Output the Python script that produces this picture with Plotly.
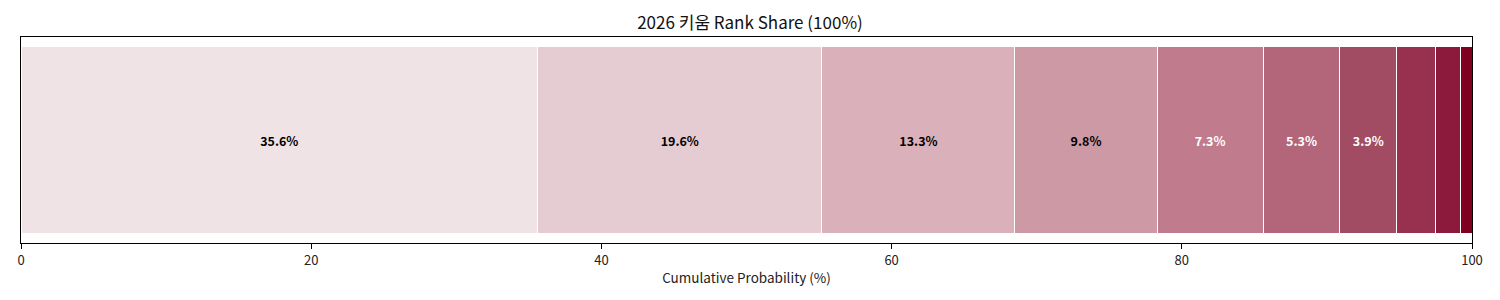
import plotly.graph_objects as go

ranks = ["1", "2", "3", "4", "5", "6", "7", "8", "9", "10"]
shares = [35.6, 19.6, 13.3, 9.8, 7.3, 5.3, 3.9, 2.7, 1.7, 0.8]
labels = ["35.6%", "19.6%", "13.3%", "9.8%", "7.3%", "5.3%", "3.9%", "", "", ""]
colors = ["#F0E3E6", "#E5CBD2", "#DAB1BA", "#CD99A5", "#C07B8C",
          "#B36679", "#A24C63", "#98314F", "#8C1A3D", "#800020"]
text_colors = ["black", "black", "black", "black", "white",
               "white", "white", "white", "white", "white"]

FONT = "Noto Sans CJK KR"
fig = go.Figure()
for r, v, lab, c, tc in zip(ranks, shares, labels, colors, text_colors):
    fig.add_trace(go.Bar(
        x=[v], y=[0], orientation="h", name=r,
        marker=dict(color=c, line=dict(color="white", width=1)),
        width=0.908,
        text=[lab], textposition="inside", insidetextanchor="middle",
        textangle=0, constraintext="none",
        textfont=dict(color=tc, size=12.5, family=FONT, weight="bold"),
        hoverinfo="x+name",
    ))

fig.update_layout(
    barmode="stack",
    width=1500, height=300,
    margin=dict(l=21, r=28, t=37, b=57),
    paper_bgcolor="white", plot_bgcolor="white",
    showlegend=False,
    font=dict(family=FONT, color="#222"),
    title=dict(text="2026 키움 Rank Share (100%)", x=0.5, xanchor="center",
               y=1 - 23 / 300, yanchor="middle", font=dict(size=17, color="#111")),
    xaxis=dict(range=[0, 100], tickvals=[0, 20, 40, 60, 80, 100],
               ticks="outside", ticklen=5, tickcolor="black",
               showline=True, linecolor="black", linewidth=1, mirror=True,
               showgrid=False, zeroline=False,
               tickfont=dict(size=13, color="#222"),
               title=dict(text="Cumulative Probability (%)", font=dict(size=13.5), standoff=5)),
    yaxis=dict(range=[-0.5, 0.5], showticklabels=False, ticks="",
               showline=True, linecolor="black", linewidth=1, mirror=True,
               showgrid=False, zeroline=False),
)

fig.write_html("out.html")
